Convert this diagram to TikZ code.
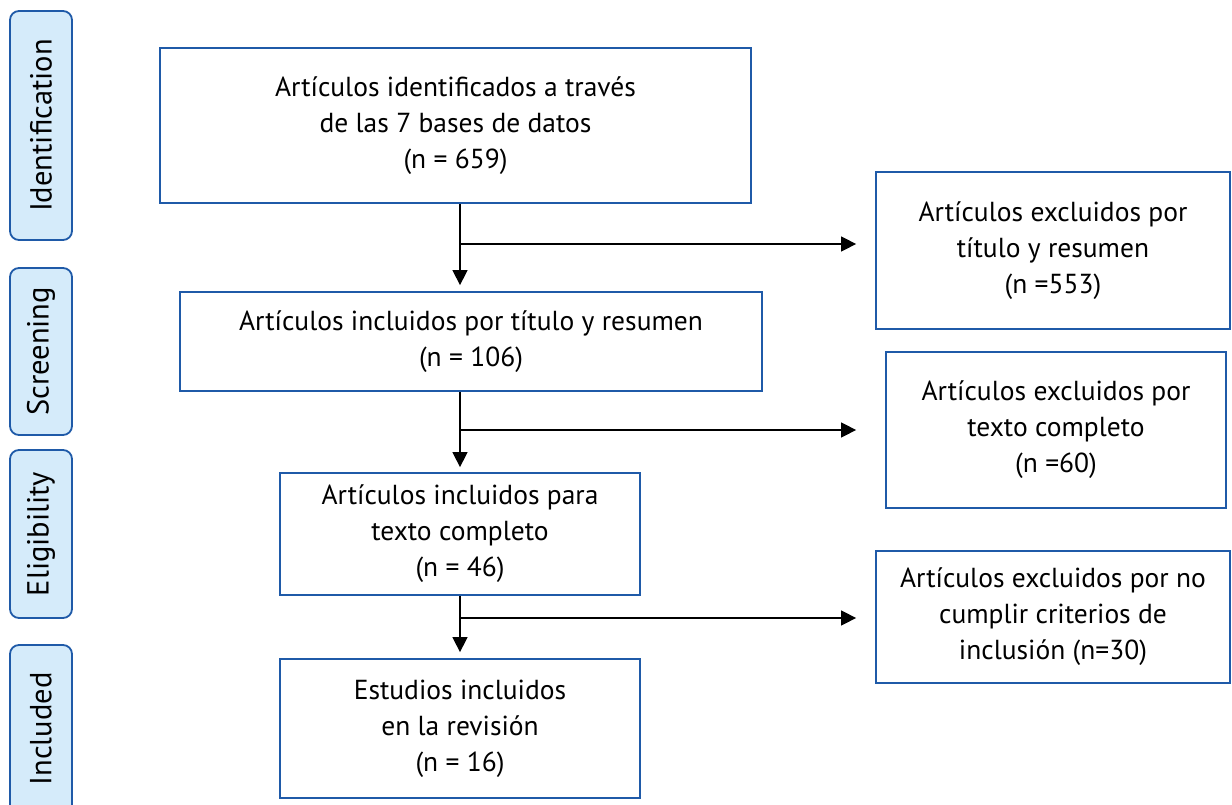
\documentclass[tikz,border=0pt]{standalone}
\usepackage{fontspec}
\setmainfont{PT Sans}
\usetikzlibrary{arrows.meta}
\definecolor{boxblue}{HTML}{1F5AA8}
\definecolor{lblfill}{HTML}{D5EBFA}
\tikzset{
  x=1pt, y=-1pt,
  mainbox/.style={draw=boxblue, line width=1.8pt, rectangle, align=center, inner sep=0pt,
     font=\fontsize{27.5}{36}\selectfont},
  phase/.style={draw=boxblue, fill=lblfill, line width=1.8pt, rounded corners=9pt, inner sep=0pt,
     minimum width=62pt},
  phasetext/.style={rotate=90, font=\fontsize{30.5}{34}\selectfont},
  arr/.style={line width=1.5pt, -{Triangle[length=15pt,width=15pt]}}
}
\begin{document}
\begin{tikzpicture}
\useasboundingbox (0,0) rectangle (1232,805);
\begin{scope}
\clip (0,0) rectangle (1232,805);
% phase labels
\node[phase, minimum height=229pt] (pid) at (41,125.5) {};
\node[phasetext] (tid) at (pid.center) {Identification};
\node[phase, minimum height=167pt] (psc) at (41,351.5) {};
\node[phasetext] (tsc) at (psc.center) {Screening};
\node[phase, minimum height=168pt] (pel) at (41,534) {};
\node[phasetext] (tel) at (pel.center) {Eligibility};
\node[phase, minimum height=185pt] (pin) at (41,737.5) {};
\node[phasetext] (tin) at (41,729) {Included};
% main boxes
\node[mainbox, minimum width=591pt, minimum height=155pt] (b1) at (455.5,125.5)
  {Artículos identificados a través\\de las 7 bases de datos\\(n = 659)};
\node[mainbox, minimum width=582pt, minimum height=99pt] (b2) at (471,341.5)
  {Artículos incluidos por título y resumen\\(n = 106)};
\node[mainbox, minimum width=360pt, minimum height=122pt] (b3) at (460,534)
  {Artículos incluidos para\\texto completo\\(n = 46)};
\node[mainbox, minimum width=360pt, minimum height=139pt] (b4) at (460,728.5)
  {Estudios incluidos\\en la revisión\\(n = 16)};
% excluded boxes
\node[mainbox, minimum width=354pt, minimum height=157pt] (r1) at (1053,250.5)
  {Artículos excluidos por\\título y resumen\\(n =553)};
\node[mainbox, minimum width=340pt, minimum height=156pt] (r2) at (1056,430)
  {Artículos excluidos por\\texto completo\\(n =60)};
\node[mainbox, minimum width=354pt, minimum height=132pt] (r3) at (1053,617)
  {Artículos excluidos por no\\cumplir criterios de\\inclusión (n=30)};
% connectors
\coordinate (c1) at (460,244);
\coordinate (c2) at (460,430);
\coordinate (c3) at (460,618);
\draw[arr, shorten >=6pt] (c1 |- b1.south) -- (c1 |- b2.north);
\draw[arr, shorten >=19pt] (c1) -- (c1 -| r1.west);
\draw[arr, shorten >=5pt] (c2 |- b2.south) -- (c2 |- b3.north);
\draw[arr, shorten >=29pt] (c2) -- (c2 -| r2.west);
\draw[arr, shorten >=6pt] (c3 |- b3.south) -- (c3 |- b4.north);
\draw[arr, shorten >=19pt] (c3) -- (c3 -| r3.west);
\end{scope}
\end{tikzpicture}
\end{document}
